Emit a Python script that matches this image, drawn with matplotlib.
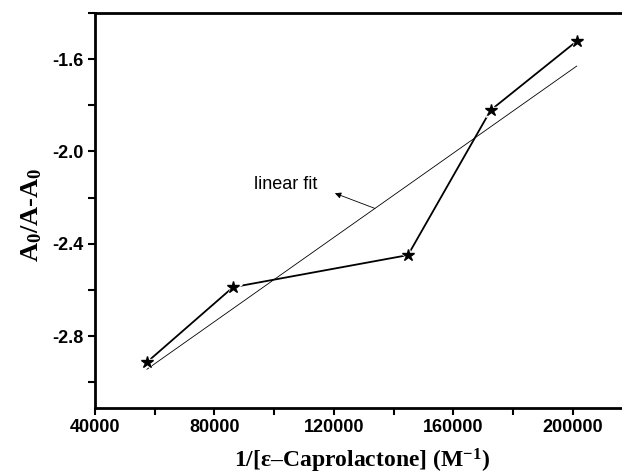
import numpy as np
import matplotlib
matplotlib.use('Agg')
import matplotlib.pyplot as plt
from matplotlib.ticker import MultipleLocator

plt.rcParams['font.family'] = ['Liberation Sans', 'DejaVu Sans']
plt.rcParams['mathtext.fontset'] = 'custom'
plt.rcParams['mathtext.rm'] = 'Liberation Serif:bold'
plt.rcParams['mathtext.it'] = 'Liberation Serif:bold'
plt.rcParams['mathtext.bf'] = 'Liberation Serif:bold'
plt.rcParams['axes.unicode_minus'] = False

# 1/[caprolactone] vs A0/(A-A0)
inv_conc = [57400, 86200, 144770, 172450, 201240]
ratio = [-2.913, -2.588, -2.449, -1.821, -1.522]

slope, intercept = np.polyfit(inv_conc, ratio, 1)
fit_x = np.array([inv_conc[0], inv_conc[-1]])
fit_y = slope * fit_x + intercept

fig = plt.figure(figsize=(6.22, 4.74), dpi=100)
ax = fig.add_axes([0.1527, 0.139, 0.8473, 0.8336])

ax.plot(fit_x, fit_y, color='black', lw=0.6)
ax.plot(inv_conc, ratio, color='black', lw=1.3)
# white halo so the line stops short of each star
ax.plot(inv_conc, ratio, ls='none', marker='*', ms=13, color='white')
ax.plot(inv_conc, ratio, ls='none', marker='*', ms=9, color='black')

arrow_x = 133700
ax.annotate('', xy=(120300, -2.181), xytext=(arrow_x, slope * arrow_x + intercept),
            arrowprops=dict(arrowstyle='-|>', color='black', lw=0.6,
                            mutation_scale=9, shrinkA=0, shrinkB=0))
ax.text(93200, -2.142, 'linear fit', fontsize=13, va='center', ha='left')

ax.set_xlim(40000, 216400)
ax.set_ylim(-3.112, -1.40)
ax.xaxis.set_major_locator(MultipleLocator(40000))
ax.xaxis.set_minor_locator(MultipleLocator(20000))
ax.yaxis.set_minor_locator(MultipleLocator(0.2))
ax.set_yticks([-2.8, -2.4, -2.0, -1.6])
ax.set_yticklabels(['-2.8', '-2.4', '-2.0', '-1.6'])

ax.spines['right'].set_visible(False)
for s in ['left', 'bottom', 'top']:
    ax.spines[s].set_linewidth(2.0)
ax.tick_params(which='major', direction='out', length=5, width=1.5, pad=3,
               labelsize=13)
ax.tick_params(which='minor', direction='out', length=5, width=1.5)
for lab in ax.get_xticklabels() + ax.get_yticklabels():
    lab.set_fontweight('bold')

ax.set_ylabel('A$_0$/A-A$_0$', fontsize=19, fontweight='bold',
              family='Liberation Serif')
ax.yaxis.set_label_coords(-0.097, 0.49)
ax.set_xlabel('1/[\u03b5\u2013Caprolactone] (M$^{-1}$)', fontsize=17,
              fontweight='bold', family='Liberation Serif')
ax.xaxis.set_label_coords(0.507, -0.098)

fig.savefig('out.png', dpi=100)
